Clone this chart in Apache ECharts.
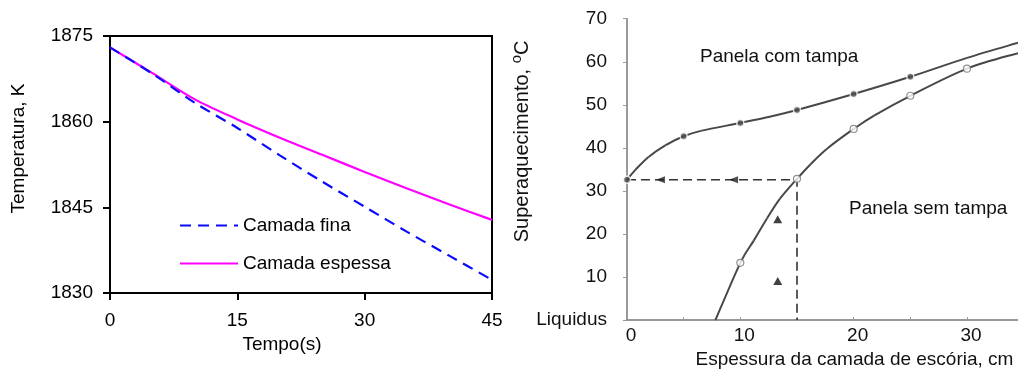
<!DOCTYPE html>
<html>
<head>
<meta charset="utf-8">
<script src="https://cdn.jsdelivr.net/npm/echarts@6/dist/echarts.min.js"></script>
<style>
  html, body { margin: 0; padding: 0; background: #fff; }
  #chart { width: 1018px; height: 374px; }
</style>
</head>
<body>
<div id="chart"></div>
<script>
var myChart = echarts.init(document.getElementById('chart'));

// left chart: temperatura x tempo
var tempo = [0, 5, 10, 15, 20, 25, 30, 35, 40, 45];
var camadaFina = [1873, 1868.4, 1863.3, 1858.9, 1854.1, 1849.5, 1845.1, 1840.7, 1836.5, 1832.3];
var camadaEspessa = [1873, 1868.5, 1863.9, 1860.4, 1857.2, 1854.2, 1851.2, 1848.3, 1845.5, 1842.8];

// right chart: superaquecimento x espessura
var comTampaX = [0, 0.74, 1.9, 3.38, 5, 6.6, 10, 12.35, 15, 20, 25, 30, 34.5];
var comTampaY = [32.6, 34.9, 37.9, 40.6, 42.7, 44.0, 45.8, 47.1, 48.8, 52.5, 56.5, 60.9, 64.4];
var comTampaMarks = [0, 4, 6, 8, 9, 10]; // indexes with filled dots
var semTampaX = [7.8, 10, 11.17, 12.35, 13.5, 15, 16.2, 17.65, 20, 21.8, 25, 30, 34.5];
var semTampaY = [0, 13.3, 18.4, 23.6, 28.2, 32.8, 36.2, 39.8, 44.4, 47.5, 52.1, 58.4, 62];
var semTampaMarks = [1, 5, 8, 10, 11]; // indexes with open circles
var guiaX = [0, 15, 15];
var guiaY = [32.6, 32.6, 0];
var setaX = [2.95, 9.4];
var triX = [13.3, 13.3];
var triY = [23.4, 9.1];

function pairs(xs, ys) {
    return xs.map(function (x, i) { return [x, ys[i]]; });
}
function pick(xs, ys, idx) {
    return idx.map(function (i) { return [xs[i], ys[i]]; });
}

var font = 'Liberation Sans';
var dark = '#484848';

// smooth curve through the points (catmull-rom segments on the axis scale)
function curveSeries(xs, ys) {
    return {
        type: 'custom', xAxisIndex: 1, yAxisIndex: 1, silent: true, z: 2,
        data: pairs(xs, ys),
        renderItem: function (params, api) {
            var i = params.dataIndex;
            if (i >= xs.length - 1) return null;
            var p = function (k) {
                k = Math.max(0, Math.min(xs.length - 1, k));
                return api.coord([xs[k], ys[k]]);
            };
            var p0 = p(i - 1), p1 = p(i), p2 = p(i + 1), p3 = p(i + 2);
            return {
                type: 'bezierCurve',
                shape: {
                    x1: p1[0], y1: p1[1], x2: p2[0], y2: p2[1],
                    cpx1: p1[0] + (p2[0] - p0[0]) / 6, cpy1: p1[1] + (p2[1] - p0[1]) / 6,
                    cpx2: p2[0] - (p3[0] - p1[0]) / 6, cpy2: p2[1] - (p3[1] - p1[1]) / 6
                },
                style: {stroke: dark, lineWidth: 2, fill: null}
            };
        }
    };
}

var option = {
    animation: false,
    textStyle: {fontFamily: font},
    legend: {
        orient: 'vertical',
        left: 174,
        top: 211,
        itemWidth: 58,
        itemHeight: 14,
        itemGap: 19,
        itemStyle: {opacity: 0},
        textStyle: {fontSize: 19, color: '#000', fontFamily: font},
        data: ['Camada fina', 'Camada espessa']
    },
    grid: [
        {left: 110, top: 36, width: 382, height: 257, show: true, borderColor: '#000', borderWidth: 2},
        {left: 627, top: 18.7, width: 391, height: 305}
    ],
    xAxis: [
        {
            gridIndex: 0, type: 'value', min: 0, max: 45, interval: 15,
            name: 'Tempo(s)', nameLocation: 'middle', nameGap: 40,
            nameTextStyle: {fontSize: 19, color: '#000', padding: [0, 38, 0, 0]},
            axisLine: {lineStyle: {color: '#000', width: 2}},
            axisTick: {inside: false, length: 7, lineStyle: {color: '#000', width: 2}},
            axisLabel: {fontSize: 19, color: '#000', margin: 18},
            splitLine: {show: false}
        },
        {
            gridIndex: 1, type: 'value', min: 0, max: 34.5, interval: 10,
            name: 'Espessura da camada de escória, cm', nameLocation: 'middle', nameGap: 29,
            nameTextStyle: {fontSize: 19, color: '#111', padding: [0, 0, 0, 64]},
            axisLine: {lineStyle: {color: '#777', width: 1.5}},
            axisTick: {inside: true, length: 3, lineStyle: {color: '#999'}},
            minorTick: {show: true, splitNumber: 2, length: 3, lineStyle: {color: '#999'}},
            axisLabel: {fontSize: 19, color: '#111', margin: 6, showMaxLabel: false, padding: [0, 0, 0, 8]},
            splitLine: {show: false}
        }
    ],
    yAxis: [
        {
            gridIndex: 0, type: 'value', min: 1830, max: 1875, interval: 15,
            name: 'Temperatura, K', nameLocation: 'middle', nameGap: 82,
            nameTextStyle: {fontSize: 19, color: '#000', padding: [0, 0, 0, 32]},
            axisLine: {lineStyle: {color: '#000', width: 2}},
            axisTick: {inside: false, length: 7, lineStyle: {color: '#000', width: 2}},
            axisLabel: {fontSize: 19, color: '#000', margin: 17, formatter: function (v) { return String(v); }},
            splitLine: {show: false}
        },
        {
            gridIndex: 1, type: 'value', min: 0, max: 70, interval: 10,
            name: 'Superaquecimento, {s|o}C', nameLocation: 'middle', nameGap: 62,
            nameTextStyle: {
                fontSize: 20, color: '#111', padding: [0, 0, 0, 56],
                rich: {s: {fontSize: 15, color: '#111', verticalAlign: 'top', padding: [0, 0, 10, 0]}}
            },
            axisLine: {lineStyle: {color: '#777', width: 1.5}},
            axisTick: {length: 4, lineStyle: {color: '#999'}},
            axisLabel: {
                fontSize: 19, color: '#111', margin: 20,
                formatter: function (v) { return v === 0 ? 'Liquidus' : String(v); }
            },
            splitLine: {show: false}
        }
    ],
    graphic: [
        {type: 'text', left: 700, top: 47, style: {text: 'Panela com tampa', font: '19px ' + font, fill: '#111'}},
        {type: 'text', left: 849, top: 199, style: {text: 'Panela sem tampa', font: '19px ' + font, fill: '#111'}}
    ],
    series: [
        {
            name: 'Camada fina', type: 'line', xAxisIndex: 0, yAxisIndex: 0,
            smooth: 0.3, symbol: 'none', z: 3,
            lineStyle: {color: '#0a0aff', width: 2.2, type: [11, 7]},
            itemStyle: {color: '#0a0aff'},
            data: pairs(tempo, camadaFina)
        },
        {
            name: 'Camada espessa', type: 'line', xAxisIndex: 0, yAxisIndex: 0,
            smooth: 0.3, symbol: 'none', z: 2,
            lineStyle: {color: '#ff00ff', width: 2.2},
            itemStyle: {color: '#ff00ff'},
            data: pairs(tempo, camadaEspessa)
        },
        curveSeries(comTampaX, comTampaY),
        {
            type: 'scatter', xAxisIndex: 1, yAxisIndex: 1,
            symbolSize: 7, z: 4,
            itemStyle: {color: dark, borderColor: '#fff', borderWidth: 1.5},
            data: pick(comTampaX, comTampaY, comTampaMarks)
        },
        curveSeries(semTampaX, semTampaY),
        {
            type: 'scatter', xAxisIndex: 1, yAxisIndex: 1,
            symbol: 'circle', symbolSize: 7, z: 4,
            itemStyle: {color: '#fff', borderColor: '#777', borderWidth: 1.2},
            data: pick(semTampaX, semTampaY, semTampaMarks)
        },
        {
            type: 'line', xAxisIndex: 1, yAxisIndex: 1,
            symbol: 'none', z: 3,
            lineStyle: {color: '#333', width: 1.6, type: [9, 5]},
            data: pairs(guiaX, guiaY)
        },
        {
            type: 'scatter', xAxisIndex: 1, yAxisIndex: 1,
            symbol: 'triangle', symbolSize: [7, 9], symbolRotate: 90, z: 5,
            itemStyle: {color: '#222'},
            data: setaX.map(function (x) { return [x, guiaY[0]]; })
        },
        {
            type: 'scatter', xAxisIndex: 1, yAxisIndex: 1,
            symbol: 'triangle', symbolSize: [9, 8], z: 5,
            itemStyle: {color: '#111'},
            data: pairs(triX, triY)
        }
    ]
};

myChart.setOption(option);
</script>
</body>
</html>
